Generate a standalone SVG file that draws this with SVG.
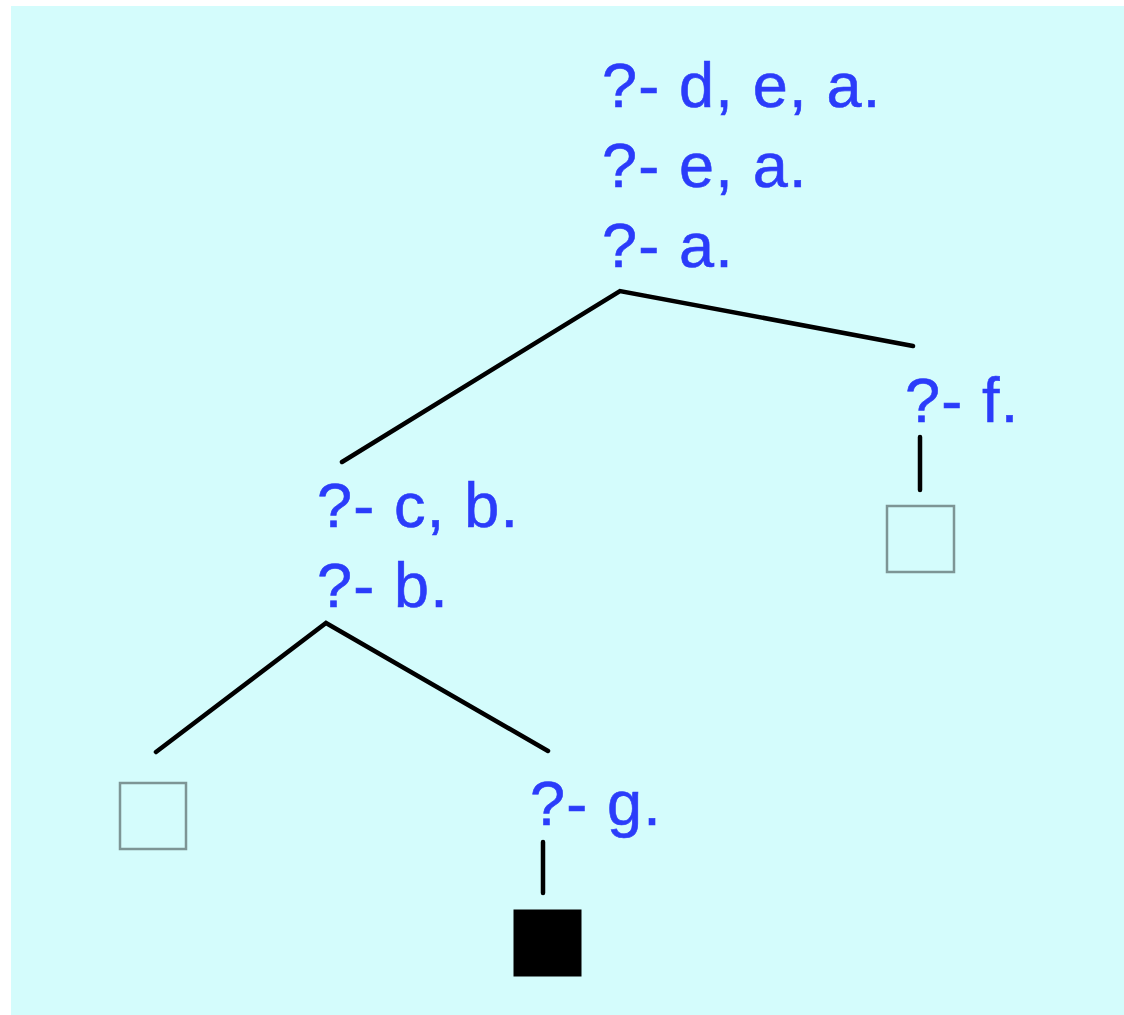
<svg xmlns="http://www.w3.org/2000/svg" width="1124" height="1015" viewBox="0 0 1124 1015">
  <style>
    .goal { font-family: "Liberation Sans", Arial, sans-serif; font-size: 63px; letter-spacing: 1.2px; fill: #2b3cfa; stroke: #2b3cfa; stroke-width: 0.6; }
    .edge { stroke: #000; stroke-width: 4.5; stroke-linecap: round; fill: none; }
    .leaf { fill: #d4fcfc; stroke: #7d9595; stroke-width: 2.5; }
    .fail { fill: #000; stroke: #000; stroke-width: 1; }
  </style>
  <rect x="0" y="0" width="1124" height="1015" fill="#ffffff"/>
  <rect x="11" y="6" width="1113" height="1009" fill="#d4fcfc"/>

  <g id="connectors">
    <polyline class="edge" points="342,462 620,291 913,346"/>
    <polyline class="edge" points="156,752 326,623 548,751"/>
    <line class="edge" x1="920" y1="437" x2="920" y2="490"/>
    <line class="edge" x1="543" y1="842" x2="543" y2="893"/>
  </g>

  <g id="root">
    <text class="goal" x="602" y="107">?- d, e, a.</text>
    <text class="goal" x="602" y="187">?- e, a.</text>
    <text class="goal" x="602" y="267">?- a.</text>
  </g>

  <g id="goal-f">
    <text class="goal" x="905" y="422">?- f.</text>
  </g>

  <g id="leaf-f">
    <rect class="leaf" x="887" y="506" width="67" height="66"/>
  </g>

  <g id="goal-cb">
    <text class="goal" x="317" y="527">?- c, b.</text>
    <text class="goal" x="317" y="607">?- b.</text>
  </g>

  <g id="leaf-left">
    <rect class="leaf" x="120" y="783" width="66" height="66"/>
  </g>

  <g id="goal-g">
    <text class="goal" x="530" y="825">?- g.</text>
  </g>

  <g id="leaf-g">
    <rect class="fail" x="514" y="910" width="67" height="66"/>
  </g>
</svg>
